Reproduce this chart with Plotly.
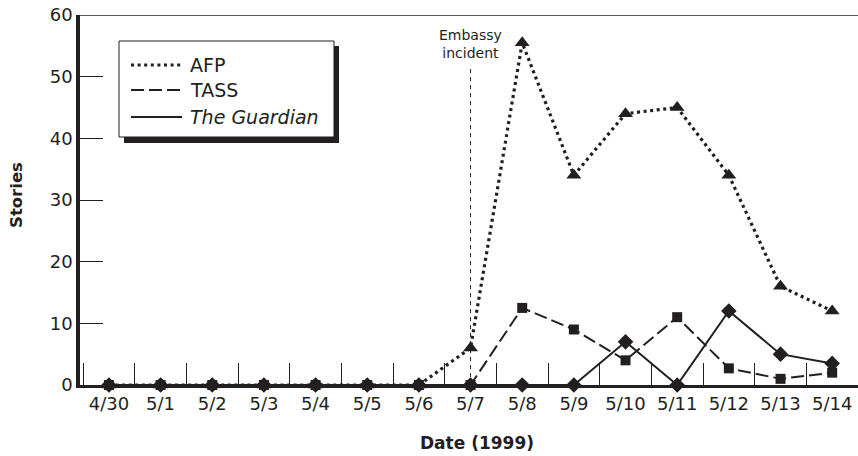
import plotly.graph_objects as go

# ---- data ----
dates = ["4/30", "5/1", "5/2", "5/3", "5/4", "5/5", "5/6", "5/7",
         "5/8", "5/9", "5/10", "5/11", "5/12", "5/13", "5/14"]
afp = [0, 0, 0, 0, 0, 0, 0, 6, 55.5, 34, 44, 45, 34, 16, 12]
tass = [0, 0, 0, 0, 0, 0, 0, 0, 12.5, 9, 4, 11, 2.7, 1, 2]
guardian = [0, 0, 0, 0, 0, 0, 0, 0, 0, 0, 7, 0, 12, 5, 3.5]
series_names = ["AFP", "TASS", "<i>The Guardian</i>"]
y_ticks = [0, 10, 20, 30, 40, 50, 60]
event_date = "5/7"
event_label = "Embassy<br>incident"

INK = "#231f20"
FONT = "DejaVu Sans"

# page geometry (body margin is removed, so figure pixels == page pixels)
W, H = 858, 456
PL, PT, PR, PB = 80, 15, 858, 385          # plot area in pixels
ML, MT, MR, MB = PL, PT, W - PR, H - PB
PW, PH = PR - PL, PB - PT


def px(x):
    return (x - PL) / PW


def py(y):
    return (PB - y) / PH


styles = {
    "AFP": dict(dash="3px,3.6px", width=3.2),
    "TASS": dict(dash="13px,5px", width=2),
    "<i>The Guardian</i>": dict(dash="solid", width=2),
}

fig = go.Figure()
fig.add_trace(go.Scatter(x=dates, y=guardian, mode="lines+markers",
                         line=dict(color=INK, **styles[series_names[2]]),
                         marker=dict(symbol="diamond", size=12, color=INK),
                         cliponaxis=False, showlegend=False, name=series_names[2]))
fig.add_trace(go.Scatter(x=dates, y=tass, mode="lines+markers",
                         line=dict(color=INK, **styles[series_names[1]]),
                         marker=dict(symbol="square", size=10, color=INK),
                         cliponaxis=False, showlegend=False, name=series_names[1]))
fig.add_trace(go.Scatter(x=dates, y=afp, mode="lines+markers",
                         line=dict(color=INK, **styles[series_names[0]]),
                         marker=dict(symbol="triangle-up", size=13, color=INK),
                         cliponaxis=False, showlegend=False, name=series_names[0]))

shapes = []
# top frame line
shapes.append(dict(type="line", xref="paper", yref="y", x0=0, x1=1, y0=60, y1=60,
                   layer="above", line=dict(color=INK, width=1.5)))
# event marker line
shapes.append(dict(type="line", xref="x", yref="y", x0=event_date, x1=event_date,
                   y0=0, y1=51.5, line=dict(color=INK, width=1, dash="4px,4px")))
# legend shadow and box
shapes.append(dict(type="rect", xref="paper", yref="paper",
                   x0=px(124), x1=px(339), y0=py(143), y1=py(46),
                   fillcolor=INK, line=dict(width=0)))
shapes.append(dict(type="rect", xref="paper", yref="paper",
                   x0=px(119), x1=px(334), y0=py(137), y1=py(41),
                   fillcolor="white", line=dict(color=INK, width=1)))

annotations = []
rows = [65, 90, 117]
for name, ry in zip(series_names, rows):
    shapes.append(dict(type="line", xref="paper", yref="paper",
                       x0=px(131), x1=px(182), y0=py(ry), y1=py(ry),
                       line=dict(color=INK, **styles[name])))
    annotations.append(dict(xref="paper", yref="paper", x=px(188), y=py(ry),
                            xanchor="left", yanchor="middle", showarrow=False,
                            text=name, font=dict(family=FONT, size=19, color=INK)))

annotations.append(dict(xref="x", yref="y", x=event_date, y=55.3, text=event_label,
                        showarrow=False, xanchor="center", yanchor="middle",
                        font=dict(family=FONT, size=14, color=INK)))
annotations.append(dict(xref="paper", yref="paper", x=px(16), y=py(195),
                        text="<b>Stories</b>", textangle=-90, showarrow=False,
                        xanchor="center", yanchor="middle",
                        font=dict(family=FONT, size=16.5, color=INK)))
annotations.append(dict(xref="paper", yref="paper", x=px(477), y=py(443),
                        text="<b>Date (1999)</b>", showarrow=False,
                        xanchor="center", yanchor="middle",
                        font=dict(family=FONT, size=17, color=INK)))

fig.update_layout(
    width=W, height=H,
    margin=dict(l=ML, r=MR, t=MT, b=MB, autoexpand=False),
    paper_bgcolor="white", plot_bgcolor="white",
    font=dict(family=FONT, size=18, color=INK),
    shapes=shapes, annotations=annotations,
    showlegend=False,
    xaxis=dict(type="category", categoryorder="array", categoryarray=dates,
               range=[-0.56, 14.5], showline=True, linewidth=3, linecolor=INK,
               ticks="inside", tickson="boundaries", ticklen=22, tickwidth=1,
               tickcolor=INK, showgrid=False, zeroline=False, automargin=False,
               ticklabeloverflow="allow",
               tickfont=dict(size=18, color=INK)),
    yaxis=dict(range=[0, 60], tickvals=y_ticks, showline=True, linewidth=3.5,
               linecolor=INK, ticks="inside", ticklen=23, tickwidth=1.2,
               tickcolor=INK, showgrid=False, zeroline=False, automargin=False,
               ticklabeloverflow="allow",
               tickfont=dict(size=18, color=INK)),
)

fig.write_html("out.html",
               config={"displayModeBar": False},
               post_script="document.body.style.margin='0';"
                           "document.body.style.overflow='hidden';")
